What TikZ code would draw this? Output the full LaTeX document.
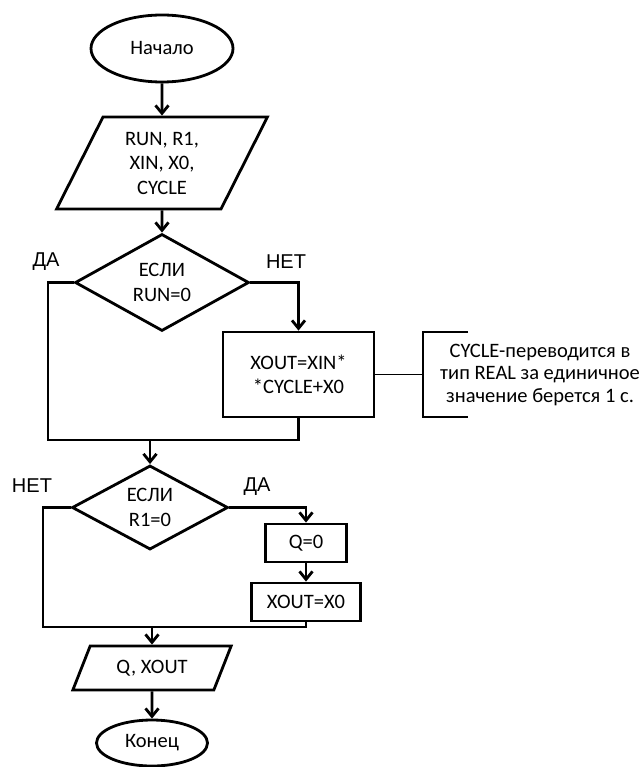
\documentclass[tikz,border=0pt]{standalone}
\usepackage{fontspec}
\setmainfont{Carlito}
\newfontfamily\labelfont{Liberation Sans}
\usetikzlibrary{shapes.geometric,arrows.meta}

\begin{document}
\begin{tikzpicture}[x=1pt,y=-1pt,line width=2.8pt,
    >={Straight Barb[length=8pt,width=13pt]},
    every node/.style={font=\fontsize{20.5}{24.5}\selectfont,align=center,inner sep=0pt},
    term/.style={draw,ellipse},
    io/.style={draw,trapezium,trapezium stretches=true},
    cond/.style={draw,diamond},
    proc/.style={draw,rectangle},
    yesno/.style={font=\fontsize{20}{24}\labelfont},
    comment/.style={line width=1.2pt}]
      \useasboundingbox (0,0) rectangle (642,767);

      \node[term,minimum width=142pt,minimum height=67pt] (start) at (162,48.5) {Начало};
      \node[io,trapezium left angle=65,trapezium right angle=115,
        minimum width=211pt,minimum height=92pt] (in) at (162,163) {RUN, R1,\\XIN, X0,\\CYCLE};
      \node[cond,minimum width=174pt,minimum height=97pt] (c1) at (162,282.5) {ЕСЛИ\\RUN=0};
      \node[proc,minimum width=151pt,minimum height=85pt] (p1) at (298.5,374.5) {XOUT=XIN*\\*CYCLE+X0};
      \node[font=\fontsize{20.5}{22.5}\selectfont] (note) at (540,374.5)
        {CYCLE-переводится в\\тип REAL за единичное\\значение берется 1 с.};
      \node[cond,minimum width=156pt,minimum height=81pt] (c2) at (150,507.5) {ЕСЛИ\\R1=0};
      \node[proc,minimum width=81pt,minimum height=38pt] (p2) at (306,543) {Q=0};
      \node[proc,minimum width=109pt,minimum height=38pt] (p3) at (306,602) {XOUT=X0};
      \node[io,trapezium left angle=58,trapezium right angle=122,
        minimum width=159pt,minimum height=44pt] (out) at (152,668) {Q, XOUT};
      \node[term,minimum width=111pt,minimum height=46pt] (stop) at (152,743) {Конец};

      \node[yesno] (yes1) at (46,262) {ДА};
      \node[yesno] (no1) at (286,262) {НЕТ};
      \node[yesno] (no2) at (32,486) {НЕТ};
      \node[yesno] (yes2) at (257,487) {ДА};

      \coordinate (l1) at (48,440);
      \coordinate (j1) at (150,440);
      \coordinate (l2) at (43,627);
      \coordinate (j2) at (152,627);
      \coordinate (nb) at (423,374.5);

      \draw[->] (start) -- (in);
      \draw[->] (in) -- (c1);
      \draw[->] (c1.east) -| (p1.north);
      \draw (c1.west) -| (l1) -| (p1.south);
      \draw[->] (j1) -- (c2);
      \draw[->] (c2.east) -| (p2.north);
      \draw[->] (p2) -- (p3);
      \draw (c2.west) -| (l2) -| (p3.south);
      \draw[->] (j2) -- (out);
      \draw[->] (out) -- (stop);

      \draw[comment] (p1.east) -- (nb);
      \draw[comment] (468,332) -- (423,332) -- (423,417) -- (468,417);
    \end{tikzpicture}
\end{document}
